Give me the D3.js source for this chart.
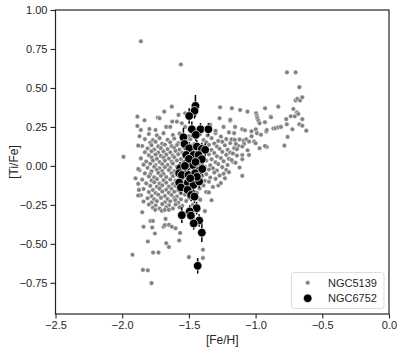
<!DOCTYPE html>
<html><head><meta charset="utf-8">
<script src="https://cdn.jsdelivr.net/npm/d3@7"></script>
<style>body{margin:0;background:#fff}svg{display:block}text{font-family:"Liberation Sans",Arial,sans-serif;fill:#262626}</style>
</head><body><svg id="c" width="407" height="357"></svg>
<script>
const xTicks=[-2.5,-2.0,-1.5,-1.0,-0.5,0.0];
const yTicks=[-0.75,-0.5,-0.25,0.0,0.25,0.5,0.75,1.0];
const seriesNames=["NGC5139","NGC6752"];
// NGC5139 [Fe/H, Ti/Fe]
const ngc5139=[
[-1.80,0.205],[-1.74,0.196],[-1.69,0.21],[-1.62,0.198],[-1.57,0.207],[-1.50,0.19],[-1.42,0.203],[-1.36,0.195],[-1.30,0.21],[-1.26,0.188],
[-1.83,0.172],[-1.77,0.165],[-1.72,0.178],[-1.66,0.168],[-1.61,0.175],[-1.55,0.162],[-1.49,0.171],[-1.39,0.166],[-1.33,0.178],[-1.28,0.16],[-1.22,0.172],
[-1.79,0.148],[-1.75,0.155],[-1.70,0.142],[-1.64,0.151],[-1.58,0.146],[-1.52,0.155],[-1.46,0.14],[-1.37,0.152],[-1.31,0.144],[-1.25,0.155],[-1.19,0.147],
[-1.85,0.128],[-1.78,0.133],[-1.73,0.125],[-1.68,0.136],[-1.63,0.127],[-1.59,0.134],[-1.54,0.122],[-1.48,0.131],[-1.42,0.126],[-1.35,0.135],[-1.29,0.124],[-1.23,0.132],
[-1.81,0.112],[-1.76,0.105],[-1.71,0.114],[-1.66,0.108],[-1.61,0.116],[-1.57,0.104],[-1.52,0.111],[-1.46,0.106],[-1.39,0.113],[-1.33,0.102],[-1.27,0.11],[-1.21,0.104],[-1.16,0.114],
[-1.83,0.088],[-1.78,0.094],[-1.73,0.085],[-1.69,0.092],[-1.64,0.087],[-1.60,0.096],[-1.55,0.084],[-1.50,0.091],[-1.44,0.086],[-1.37,0.095],[-1.31,0.083],[-1.25,0.09],[-1.19,0.086],
[-1.80,0.068],[-1.75,0.073],[-1.71,0.064],[-1.67,0.072],[-1.62,0.066],[-1.58,0.075],[-1.53,0.063],[-1.48,0.07],[-1.41,0.065],[-1.35,0.074],[-1.29,0.062],[-1.22,0.071],[-1.14,0.066],
[-1.86,0.048],[-1.78,0.054],[-1.74,0.045],[-1.69,0.052],[-1.65,0.047],[-1.61,0.055],[-1.56,0.044],[-1.51,0.051],[-1.45,0.046],[-1.39,0.053],[-1.33,0.043],[-1.26,0.05],[-1.20,0.045],
[-1.82,0.028],[-1.77,0.034],[-1.72,0.025],[-1.68,0.033],[-1.63,0.027],[-1.59,0.035],[-1.54,0.024],[-1.49,0.031],[-1.43,0.026],[-1.37,0.034],[-1.30,0.023],[-1.24,0.03],[-1.17,0.026],
[-1.84,0.008],[-1.79,0.014],[-1.75,0.005],[-1.70,0.012],[-1.66,0.006],[-1.62,0.015],[-1.57,0.004],[-1.52,0.011],[-1.47,0.007],[-1.40,0.013],[-1.34,0.004],[-1.28,0.012],[-1.21,0.006],
[-1.81,-0.012],[-1.76,-0.006],[-1.72,-0.015],[-1.68,-0.008],[-1.64,-0.013],[-1.59,-0.005],[-1.55,-0.016],[-1.50,-0.009],[-1.44,-0.014],[-1.38,-0.006],[-1.32,-0.015],[-1.25,-0.008],
[-1.87,-0.028],[-1.78,-0.034],[-1.74,-0.025],[-1.70,-0.033],[-1.65,-0.027],[-1.61,-0.035],[-1.57,-0.024],[-1.52,-0.031],[-1.46,-0.026],[-1.41,-0.034],[-1.35,-0.023],[-1.29,-0.03],[-1.22,-0.026],
[-1.83,-0.048],[-1.79,-0.054],[-1.73,-0.045],[-1.69,-0.052],[-1.63,-0.047],[-1.59,-0.055],[-1.54,-0.044],[-1.49,-0.051],[-1.43,-0.046],[-1.37,-0.053],[-1.31,-0.043],[-1.24,-0.05],
[-1.80,-0.068],[-1.76,-0.073],[-1.71,-0.064],[-1.67,-0.072],[-1.62,-0.066],[-1.57,-0.075],[-1.53,-0.063],[-1.47,-0.07],[-1.40,-0.065],[-1.34,-0.074],[-1.27,-0.062],
[-1.85,-0.088],[-1.78,-0.094],[-1.74,-0.085],[-1.69,-0.092],[-1.64,-0.087],[-1.60,-0.096],[-1.55,-0.084],[-1.50,-0.091],[-1.44,-0.086],[-1.38,-0.095],[-1.30,-0.083],
[-1.82,-0.112],[-1.76,-0.105],[-1.72,-0.114],[-1.67,-0.108],[-1.62,-0.116],[-1.58,-0.104],[-1.53,-0.111],[-1.48,-0.106],[-1.41,-0.113],[-1.35,-0.102],
[-1.79,-0.128],[-1.74,-0.134],[-1.70,-0.125],[-1.65,-0.133],[-1.60,-0.127],[-1.56,-0.136],[-1.51,-0.124],[-1.45,-0.131],[-1.39,-0.126],[-1.32,-0.135],
[-1.84,-0.148],[-1.77,-0.155],[-1.72,-0.146],[-1.67,-0.153],[-1.63,-0.147],[-1.58,-0.156],[-1.54,-0.144],[-1.48,-0.152],[-1.42,-0.145],
[-1.80,-0.168],[-1.75,-0.174],[-1.70,-0.165],[-1.65,-0.173],[-1.61,-0.166],[-1.56,-0.176],[-1.51,-0.164],[-1.44,-0.172],[-1.37,-0.167],
[-1.86,-0.188],[-1.78,-0.194],[-1.73,-0.185],[-1.68,-0.193],[-1.63,-0.187],[-1.59,-0.196],[-1.53,-0.184],[-1.47,-0.191],
[-1.81,-0.208],[-1.76,-0.214],[-1.71,-0.205],[-1.66,-0.213],[-1.61,-0.206],[-1.56,-0.215],[-1.50,-0.204],[-1.42,-0.212],
[-1.84,-0.228],[-1.78,-0.235],[-1.74,-0.226],[-1.68,-0.233],[-1.64,-0.227],[-1.58,-0.236],[-1.52,-0.225],
[-1.80,-0.248],[-1.75,-0.254],[-1.70,-0.245],[-1.65,-0.252],[-1.60,-0.247],[-1.55,-0.256],
[-1.77,-0.268],[-1.72,-0.274],[-1.67,-0.265],[-1.62,-0.273],[-1.57,-0.266],
[-1.86,0.80],[-1.56,0.65],
[-1.886,0.316],[-1.886,0.256],[-1.833,0.293],[-1.733,0.31],[-1.72,0.306],[-1.685,0.348],[-1.628,0.38],[-1.625,0.284],[-1.796,0.237],[-1.67,0.25],[-1.64,0.25],[-1.59,0.284],[-1.553,0.274],[-1.528,0.25],[-1.578,0.327],[-1.528,0.338],[-1.86,0.23],[-1.75,0.23],
[-1.266,0.376],[-1.178,0.37],[-1.116,0.359],[-1.061,0.348],[-0.929,0.37],[-1.27,0.306],[-1.191,0.29],[-1.34,0.263],[-1.24,0.25],[-1.154,0.25],[-1.10,0.235],[-1.08,0.229],[-1.031,0.222],[-0.998,0.235],[-0.99,0.21],[-0.96,0.20],[-0.92,0.22],[-1.30,0.225],[-1.20,0.215],
[-0.996,0.338],[-0.99,0.32],[-0.986,0.306],[-0.979,0.29],[-0.97,0.274],[-0.886,0.316],[-0.93,0.28],[-1.19,0.295],
[-0.867,0.24],[-0.85,0.242],[-0.83,0.248],[-0.81,0.25],
[-0.765,0.60],[-0.70,0.60],[-0.672,0.505],[-0.70,0.42],[-0.687,0.43],[-0.667,0.42],[-0.65,0.44],[-0.83,0.38],[-0.717,0.365],[-0.69,0.344],[-0.884,0.312],[-0.77,0.30],[-0.736,0.318],[-0.706,0.318],[-0.68,0.333],[-0.65,0.30],
[-0.766,0.267],[-0.672,0.267],[-0.65,0.258],[-0.724,0.235],[-0.916,0.23],[-0.62,0.226],[-0.76,0.186],[-0.97,0.113],[-0.916,0.122],[-0.784,0.13],
[-1.161,0.21],[-1.18,0.17],[-1.156,0.167],[-1.12,0.17],[-1.09,0.162],[-1.07,0.17],[-1.049,0.156],[-1.086,0.141],[-1.129,0.128],[-1.148,0.141],[-1.10,0.124],[-1.14,0.107],[-1.011,0.156],[-1.10,0.07],[-1.05,0.07],[-1.10,0.043],[-1.18,0.038],[-1.10,-0.064],[-1.03,0.19],[-1.06,0.10],[-1.15,0.02],[-1.12,-0.01],[-1.20,-0.04],[-1.17,0.08],[-1.00,0.145],[-0.93,0.128],
[-1.279,-0.126],[-1.415,-0.218],[-1.23,-0.08],[-1.26,-0.11],[-1.35,-0.17],
[-1.923,-0.57],[-1.845,-0.667],[-1.808,-0.67],[-1.78,-0.752],[-1.768,-0.556],[-1.728,-0.556],[-1.808,-0.485],[-1.67,-0.496],[-1.65,-0.52],[-1.755,-0.434],[-1.84,-0.39],[-1.775,-0.395],[-1.788,-0.353],[-1.77,-0.353],[-1.675,-0.34],[-1.69,-0.39],[-1.68,-0.38],[-1.65,-0.378],[-1.85,-0.297],[-1.753,-0.282],[-1.703,-0.288],[-1.68,-0.282],[-1.65,-0.282],
[-1.50,-0.585],[-1.395,-0.538],[-1.395,-0.59],[-1.566,-0.43],[-1.573,-0.479],[-1.60,-0.40],[-1.628,-0.39],[-1.88,-0.115],[-1.875,-0.154],[-1.88,-0.19],[-1.90,-0.08],[-1.88,-0.02],[-1.99,0.058],[-1.88,0.13],[-1.87,0.19],
[-1.52,-0.30],[-1.47,-0.25],[-1.38,-0.29],[-1.33,-0.22],[-1.56,-0.33],[-1.603,-0.218]
];
// NGC6752 [Fe/H, Ti/Fe, error]
const ngc6752=[
[-1.451,0.385,0.07],[-1.458,0.353,0.05],[-1.498,0.32,0.05],[-1.478,0.235,0.05],[-1.413,0.235,0.04],[-1.354,0.235,0.04],
[-1.541,0.184,0.06],[-1.448,0.199,0.04],[-1.533,0.141,0.04],[-1.498,0.113,0.04],[-1.44,0.124,0.04],[-1.403,0.109,0.04],
[-1.378,0.103,0.04],[-1.52,0.07,0.04],[-1.466,0.07,0.04],[-1.428,0.07,0.04],[-1.403,0.043,0.04],[-1.49,0.017,0.04],
[-1.47,0.006,0.04],[-1.566,-0.015,0.04],[-1.421,-0.03,0.04],[-1.573,-0.047,0.04],[-1.553,-0.058,0.04],[-1.503,-0.058,0.04],
[-1.453,-0.047,0.04],[-1.573,-0.107,0.04],[-1.508,-0.107,0.04],[-1.466,-0.122,0.04],[-1.423,-0.10,0.04],[-1.56,-0.138,0.04],
[-1.51,-0.154,0.04],[-1.483,-0.186,0.04],[-1.458,-0.197,0.04],[-1.442,-0.271,0.04],[-1.494,-0.292,0.04],[-1.553,-0.316,0.05],
[-1.485,-0.319,0.04],[-1.423,-0.35,0.04],[-1.464,-0.369,0.04],[-1.403,-0.428,0.06],[-1.434,-0.641,0.05],
[-1.50,0.045,0.04],[-1.45,0.025,0.04],[-1.53,0.0,0.04],[-1.44,-0.07,0.04],[-1.49,-0.08,0.04],[-1.40,-0.02,0.04]
];
const svg=d3.select("#c");
const L=55.5,R=389,T=10,B=314;
const x=d3.scaleLinear().domain([-2.5,0]).range([L,R]);
const y=d3.scaleLinear().domain([-0.95,1.0]).range([B,T]);
const ink="#262626";
const gAxX=svg.append("g").attr("transform",`translate(0,${B})`)
 .call(d3.axisBottom(x).tickValues(xTicks).tickFormat(d3.format(".1f")).tickSize(4.5).tickPadding(3));
const gAxY=svg.append("g").attr("transform",`translate(${L},0)`)
 .call(d3.axisLeft(y).tickValues(yTicks).tickFormat(d3.format(".2f")).tickSize(5).tickPadding(3));
[gAxX,gAxY].forEach(g=>{g.select(".domain").remove();g.selectAll("line").attr("stroke",ink).attr("stroke-width",1.1);
 g.selectAll("text").attr("fill",ink).style("font-size","11px").style("font-family","'Liberation Sans',Arial,sans-serif");});
gAxX.selectAll("text").attr("dy","0.71em");
const plot=svg.append("g");
plot.selectAll("circle.a").data(ngc5139).join("circle").attr("class","a")
 .attr("cx",d=>x(d[0])).attr("cy",d=>y(d[1])).attr("r",2.3)
 .attr("fill","#808080").attr("stroke","#fff").attr("stroke-width",0.5);
plot.selectAll("line.e").data(ngc6752).join("line").attr("class","e")
 .attr("x1",d=>x(d[0])).attr("x2",d=>x(d[0])).attr("y1",d=>y(d[1]-d[2])).attr("y2",d=>y(d[1]+d[2]))
 .attr("stroke","#000").attr("stroke-width",1.5);
plot.selectAll("circle.b").data(ngc6752).join("circle").attr("class","b")
 .attr("cx",d=>x(d[0])).attr("cy",d=>y(d[1])).attr("r",4.3)
 .attr("fill","#000").attr("stroke","#fff").attr("stroke-width",0.7);
svg.append("rect").attr("x",L).attr("y",T).attr("width",R-L).attr("height",B-T)
 .attr("fill","none").attr("stroke",ink).attr("stroke-width",1.2);
svg.append("text").attr("x",(L+R)/2).attr("y",344).attr("text-anchor","middle").style("font-size","12px").text("[Fe/H]");
svg.append("text").attr("transform",`translate(18,${(T+B)/2}) rotate(-90)`).attr("text-anchor","middle").style("font-size","12px").text("[Ti/Fe]");
const lg=svg.append("g");
lg.append("rect").attr("x",291.5).attr("y",272.5).attr("width",92.5).attr("height",36).attr("rx",2.5)
 .attr("fill","#fff").attr("fill-opacity",0.8).attr("stroke","#d6d6d6").attr("stroke-width",0.8);
const lgY=[282.7,298.3];
lg.append("circle").attr("cx",307.7).attr("cy",lgY[0]).attr("r",2.3).attr("fill","#808080").attr("stroke","#fff").attr("stroke-width",0.5);
lg.append("circle").attr("cx",307.7).attr("cy",lgY[1]).attr("r",4.3).attr("fill","#000").attr("stroke","#fff").attr("stroke-width",0.7);
seriesNames.forEach((n,i)=>lg.append("text").attr("x",328).attr("y",lgY[i]).attr("dy","0.36em").style("font-size","11px").text(n));
</script></body></html>
